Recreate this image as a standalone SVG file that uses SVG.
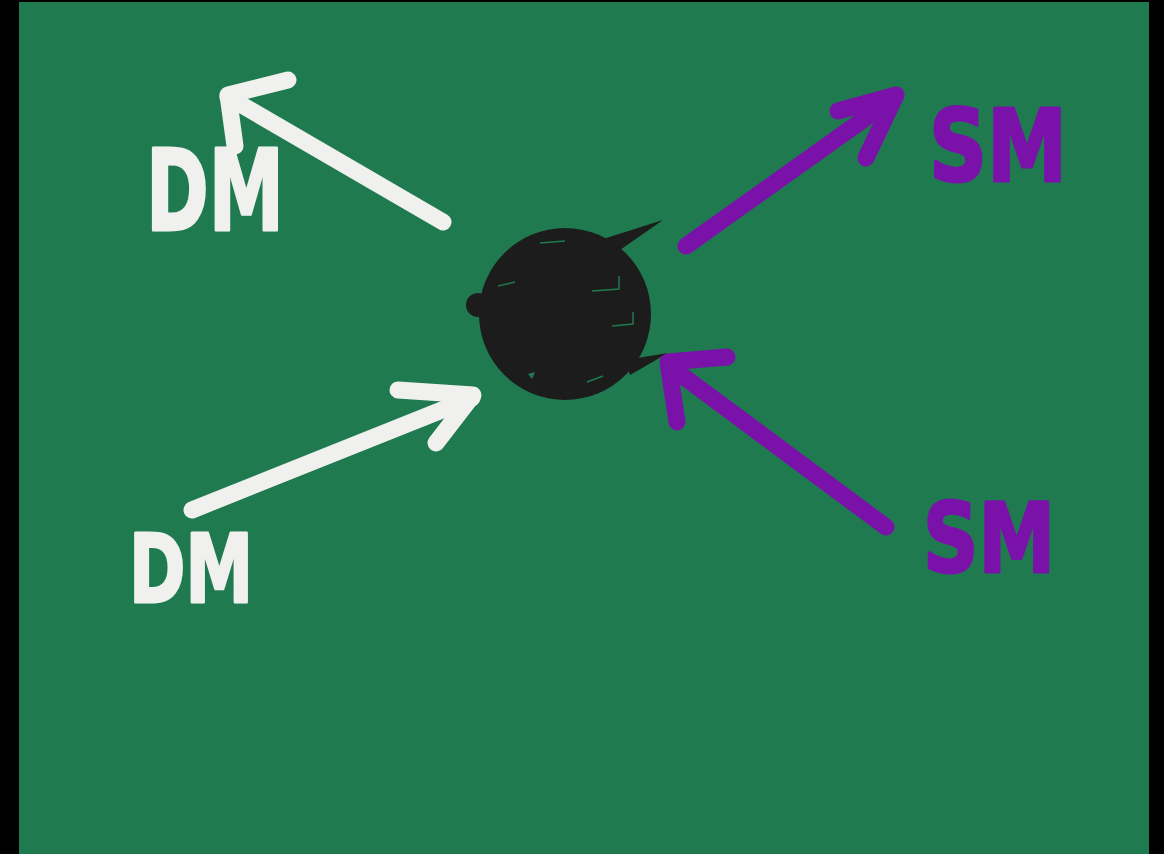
<svg xmlns="http://www.w3.org/2000/svg" width="1164" height="854" viewBox="0 0 1164 854">
  <style>
    .lbl { font-family: "DejaVu Sans", "Liberation Sans", sans-serif; font-weight: bold; stroke-linejoin: round; }
    .white { fill: #f0f0ee; stroke: #f0f0ee; }
    .purple { fill: #7a12aa; stroke: #7a12aa; }
    .w { fill: none; stroke: #f0f0ee; stroke-width: 17; stroke-linecap: round; stroke-linejoin: round; }
    .p { fill: none; stroke: #7a12aa; stroke-width: 17; stroke-linecap: round; stroke-linejoin: round; }
  </style>
  <rect x="0" y="0" width="1164" height="854" fill="#000"/>
  <rect x="19" y="2" width="1130" height="852" fill="#207a50"/>

  <g id="ball">
    <circle cx="565" cy="314" r="86" fill="#1c1c1c"/>
    <ellipse cx="478" cy="305" rx="12" ry="12" fill="#1c1c1c"/>
    <polygon points="600,240 663,220 620,250" fill="#1c1c1c"/>
    <polygon points="625,360 668,353 630,375" fill="#1c1c1c"/>
    <path d="M540 243 L565 241" stroke="#207a50" stroke-width="1.5" fill="none"/>
    <path d="M498 286 L515 282" stroke="#207a50" stroke-width="1.5" fill="none"/>
    <path d="M592 291 L619 289 L619 276" stroke="#207a50" stroke-width="1.5" fill="none"/>
    <path d="M612 326 L633 324 L633 312" stroke="#207a50" stroke-width="1.5" fill="none"/>
    <path d="M528 374 L535 372 L532 379 Z" fill="#207a50"/>
    <path d="M587 382 L603 376" stroke="#207a50" stroke-width="1.5" fill="none"/>
  </g>

  <g id="dm-top">
    <text class="lbl white" x="146" y="230" font-size="112" stroke-width="3" textLength="138" lengthAdjust="spacingAndGlyphs">DM</text>
  </g>
  <g id="dm-bottom">
    <text class="lbl white" x="129" y="602" font-size="94" stroke-width="3" textLength="124" lengthAdjust="spacingAndGlyphs">DM</text>
  </g>
  <g id="sm-top">
    <text class="lbl purple" x="929" y="181" font-size="100" stroke-width="3" textLength="138" lengthAdjust="spacingAndGlyphs">SM</text>
  </g>
  <g id="sm-bottom">
    <text class="lbl purple" x="923" y="572" font-size="96" stroke-width="3" textLength="132" lengthAdjust="spacingAndGlyphs">SM</text>
  </g>

  <g id="connectors">
    <path class="w" d="M443 222 L228 97"/>
    <path class="w" d="M288 80 L228 95 L235 146"/>
    <path class="w" d="M192 510 L472 398"/>
    <path class="w" d="M398 390 L473 395 L436 443"/>
    <path class="p" d="M686 246 L895 97"/>
    <path class="p" d="M838 111 L896 95 L866 158"/>
    <path class="p" d="M886 527 L672 368"/>
    <path class="p" d="M727 357 L668 362 L677 422"/>
  </g>
</svg>
